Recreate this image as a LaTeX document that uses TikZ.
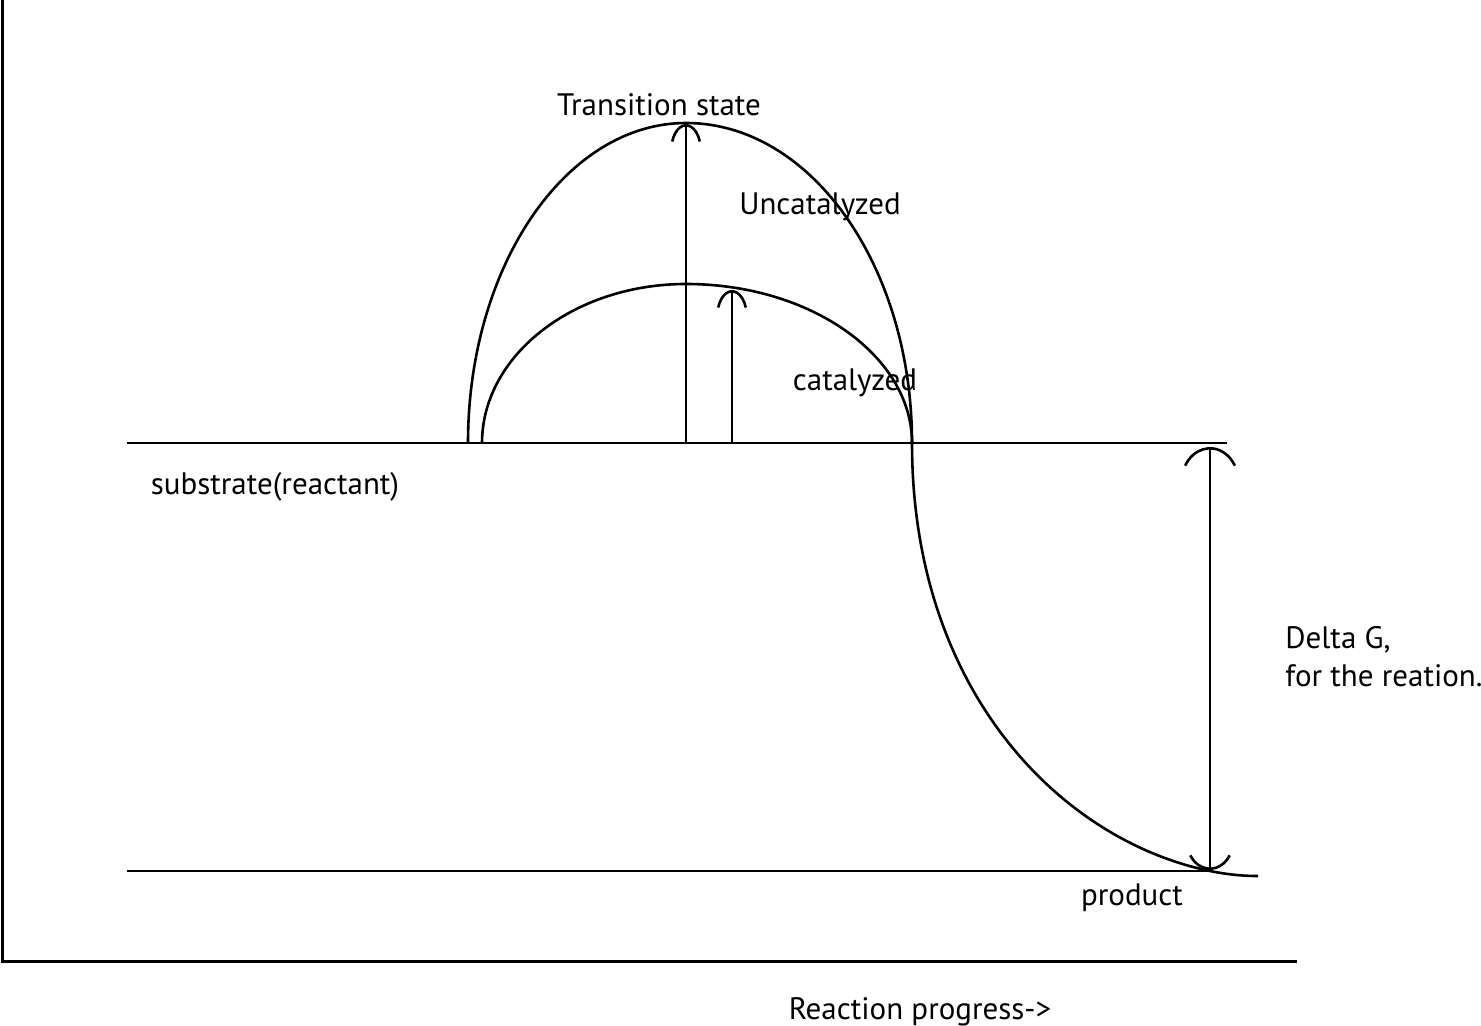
\documentclass[tikz,border=0pt]{standalone}
\usepackage{fontspec}
\setmainfont{PT Sans}
\usetikzlibrary{arrows.meta,positioning}
\tikzset{
  line/.style={line width=1.3pt},
  label/.style={font=\fontsize{15.5}{19}\selectfont, inner sep=0pt},
  barb/.style={line width=1.3pt, -{Arc Barb[arc=140, length=13pt, width=16pt, line width=1.3pt]}},
  bigbarb/.style={line width=1.3pt, {Arc Barb[arc=120, length=14pt, width=24pt, line width=1.3pt]}-{Arc Barb[arc=120, length=18pt, width=30pt, line width=1.3pt]}}
}
\begin{document}
\begin{tikzpicture}[x=0.5pt, y=-0.5pt]
  \useasboundingbox (0,0) rectangle (1481,1026);
  % axes
  \draw[line width=1.5pt] (2,0) -- (2,961) -- (1297,961);
  % energy levels
  \coordinate (sL) at (127,443);
  \coordinate (sR) at (1227,443);
  \coordinate (pL) at (127,871);
  \coordinate (pR) at (1210,871);
  \draw[line] (sL) -- (sR);
  \draw[line] (pL) -- (pR);
  % uncatalyzed path and the way down to the product
  \draw[line] (468,443) .. controls (468,266) and (566,123) .. (686,123)
    .. controls (811,123) and (912,266) .. (912,443)
    .. controls (912,690) and (1060,840) .. (1210,871)
    .. controls (1225,874) and (1240,876) .. (1258,876);
  % catalyzed path
  \draw[line] (482,443) .. controls (482,356) and (573,284) .. (686,284)
    .. controls (811,284) and (912,356) .. (912,443);
  % barriers
  \coordinate (u0) at (686,443);
  \coordinate (u1) at (686,124);
  \coordinate (c0) at (732,443);
  \coordinate (c1) at (732,290);
  \draw[barb] (u0) -- (u1);
  \draw[barb] (c0) -- (c1);
  \coordinate (g0) at (1210,447);
  \coordinate (g1) at (1210,870);
  \draw[bigbarb] (g1) -- (g0);
  % labels
  \node[label] (ts) at (659,105) {Transition state};
  \node[label] (uncat) at (820,207) {Uncatalyzed};
  \node[label] (cat) at (855,383) {catalyzed};
  \node[label] (substrate) at (275,487) {substrate(reactant)};
  \node[label, anchor=west, align=left] (dg) at (1285,657) {Delta G,\\for the reation.};
  \node[label] (product) at (1132,898) {product};
  \node[label] (progress) at (920,1012) {Reaction progress->};
\end{tikzpicture}
\end{document}
